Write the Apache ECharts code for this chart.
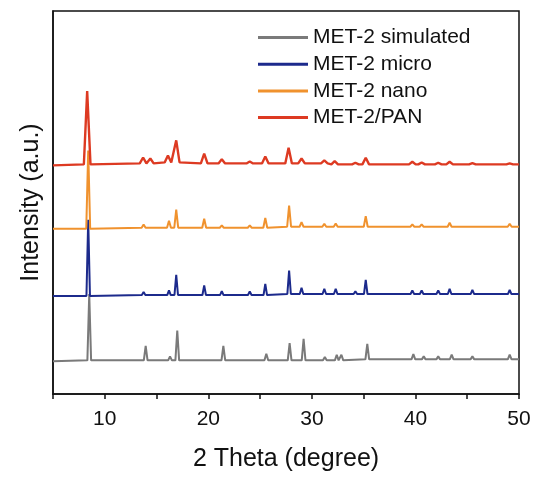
<!DOCTYPE html>
<html>
<head>
<meta charset="utf-8">
<script src="https://cdn.jsdelivr.net/npm/echarts@6/dist/echarts.min.js"></script>
<style>
  html, body { margin: 0; padding: 0; background: #fff; }
  #chart { width: 539px; height: 477px; }
</style>
</head>
<body>
<div id="chart"></div>
<script>
// series names (legend order)
const seriesNames = ['MET-2 simulated', 'MET-2 micro', 'MET-2 nano', 'MET-2/PAN'];
const seriesColors = ['#7a7a7a', '#1c2a8c', '#f0922e', '#dd3a22'];

// x tick labels
const xTicks = [10, 20, 30, 40, 50];

// peaks: [2theta, top, foot], stacked intensity (a.u.)
const grayEnds = [[5, 33], [50, 35]];
const grayPeaks = [
  [8.5, 101, 34], [13.95, 48.7, 34], [16.3, 38, 34], [17.0, 64, 34], [21.45, 48.7, 34],
  [25.6, 40.7, 34], [27.85, 51.3, 34], [29.2, 55.7, 34], [31.25, 37.3, 34], [32.4, 39.7, 34],
  [32.85, 39.7, 34], [35.35, 50.7, 35], [37.1, 37, 35], [39.8, 40.3, 35], [40.8, 38, 35],
  [42.2, 38, 35], [43.5, 39.7, 35], [45.5, 38, 35], [49.1, 39.7, 35]
];

const blueEnds = [[5, 99], [50, 101]];
const bluePeaks = [
  [8.4, 176, 99], [13.75, 103, 100], [16.2, 104.7, 100], [16.9, 120.3, 100], [19.6, 109.7, 100],
  [21.3, 104, 100], [24.0, 103.7, 100], [25.5, 111.3, 100], [27.8, 124.7, 101], [29.0, 107.3, 101],
  [31.2, 106.3, 101], [32.3, 106.3, 101], [34.2, 103.7, 101], [35.2, 115.3, 101], [39.7, 104.7, 101],
  [40.6, 104.7, 101], [42.2, 104.7, 101], [43.3, 106.3, 101], [45.5, 105.3, 101], [49.1, 105.3, 101]
];

const orangeEnds = [[5, 167], [50, 169]];
const orangePeaks = [
  [8.4, 246, 167], [13.75, 171.3, 168], [16.2, 175, 168], [16.9, 186.3, 168], [19.6, 177, 168],
  [21.3, 170.3, 168], [24.0, 170.3, 168], [25.5, 178, 168], [27.8, 190.3, 169], [29.0, 173.7, 169],
  [31.2, 172, 169], [32.3, 172.3, 169], [34.2, 170, 169], [35.2, 179.7, 169], [39.7, 171.3, 169],
  [40.6, 171.3, 169], [42.2, 171, 169], [43.3, 173, 169], [45.5, 171, 169], [49.1, 172, 169]
];

const redEnds = [[5, 231], [50, 232]];
const redPeaks = [
  [8.3, 306, 232], [13.7, 239, 233], [14.4, 238, 233], [16.1, 241, 234], [16.9, 256.3, 234],
  [19.6, 243, 233], [21.3, 237.3, 233], [24.0, 235, 233], [25.5, 240, 233], [27.75, 248.7, 233],
  [29.0, 238, 233], [31.2, 236, 233], [32.2, 235.3, 232], [34.2, 233.7, 232], [35.2, 238.7, 232],
  [39.7, 234.7, 232], [40.6, 234, 232], [42.2, 233.7, 232], [43.3, 234.7, 232], [45.5, 233.3, 232],
  [49.1, 233, 232]
];

// half width of peaks per series (style)
const halfWidths = [0.18, 0.17, 0.19, 0.32];

function buildLine(ends, peaks, w) {
  const pts = [ends[0]];
  peaks.forEach(([x, top, foot]) => {
    pts.push([x - w, foot], [x, top], [x + w, foot]);
  });
  pts.push(ends[1]);
  return pts;
}

const lines = [
  buildLine(grayEnds, grayPeaks, halfWidths[0]),
  buildLine(blueEnds, bluePeaks, halfWidths[1]),
  buildLine(orangeEnds, orangePeaks, halfWidths[2]),
  buildLine(redEnds, redPeaks, halfWidths[3])
];

const chart = echarts.init(document.getElementById('chart'));

const font = 'Liberation Sans, Arial, sans-serif';

chart.setOption({
  animation: false,
  grid: {
    left: 53, right: 20, top: 11, bottom: 79,
    show: true, borderColor: '#111', borderWidth: 1.5
  },
  legend: {
    orient: 'vertical',
    left: 253, top: 22,
    icon: 'rect',
    itemWidth: 50, itemHeight: 3, itemGap: 5.7,
    textStyle: { fontFamily: font, fontSize: 21, color: '#111', lineHeight: 21 },
    data: seriesNames
  },
  xAxis: {
    type: 'value',
    min: 5, max: 50, interval: 5,
    name: '2 Theta (degree)',
    nameLocation: 'middle',
    nameGap: 53,
    nameTextStyle: { fontFamily: font, fontSize: 25, color: '#111' },
    axisLine: { lineStyle: { color: '#111', width: 1.5 } },
    axisTick: { show: true, length: 5, lineStyle: { color: '#111', width: 1.5 } },
    axisLabel: {
      fontFamily: font, fontSize: 21, color: '#111', margin: 15,
      formatter: v => (xTicks.includes(v) ? String(v) : '')
    },
    splitLine: { show: false }
  },
  yAxis: {
    type: 'value',
    min: 0, max: 387,
    name: 'Intensity (a.u.)',
    nameLocation: 'middle',
    nameGap: 9,
    nameTextStyle: { fontFamily: font, fontSize: 25, color: '#111' },
    axisLine: { show: true, lineStyle: { color: '#111', width: 1.5 } },
    axisTick: { show: false },
    axisLabel: { show: false },
    splitLine: { show: false }
  },
  series: lines.map((d, i) => ({
    name: seriesNames[i],
    type: 'line',
    data: d,
    symbol: 'none',
    color: seriesColors[i],
    lineStyle: { color: seriesColors[i], width: i === 3 ? 2.4 : 2 }
  }))
});
</script>
</body>
</html>
